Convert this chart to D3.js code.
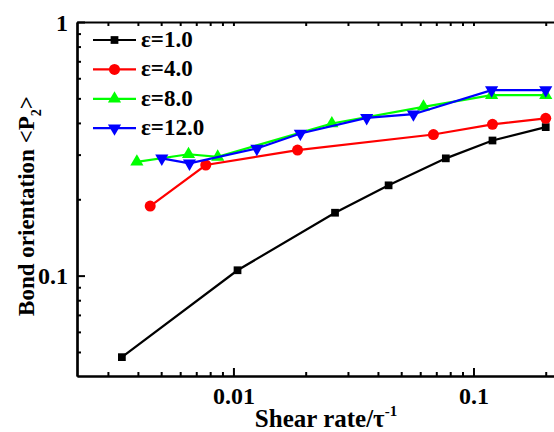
<!DOCTYPE html>
<html>
<head>
<meta charset="utf-8">
<script src="https://cdn.jsdelivr.net/npm/d3@7"></script>
<style>
  body { margin: 0; background: #fff; }
  text { font-family: "Times New Roman", "Liberation Serif", serif; font-weight: bold; }
</style>
</head>
<body>
<div id="chart"></div>
<script>
// values (shear rate, <P2>)
const seriesNames = ["ε=1.0", "ε=4.0", "ε=8.0", "ε=12.0"];
const seriesColors = ["#000000", "#ff0000", "#00ff00", "#0000ff"];

const eps1x = [0.00343, 0.0104, 0.0265, 0.0443, 0.0767, 0.12, 0.2];
const eps1y = [0.0477, 0.105, 0.177, 0.227, 0.290, 0.341, 0.385];

const eps4x = [0.0045, 0.00767, 0.0185, 0.0681, 0.12, 0.2];
const eps4y = [0.188, 0.273, 0.3125, 0.360, 0.395, 0.417];

const eps8x = [0.00396, 0.0065, 0.0086, 0.0257, 0.0619, 0.119, 0.2];
const eps8y = [0.281, 0.301, 0.294, 0.398, 0.463, 0.515, 0.515];

const eps12x = [0.00503, 0.00656, 0.01252, 0.019, 0.0359, 0.0562, 0.119, 0.2];
const eps12y = [0.290, 0.277, 0.317, 0.3636, 0.419, 0.433, 0.539, 0.539];

const xMajor = [0.01, 0.1];
const xMajorLabels = ["0.01", "0.1"];
const yMajor = [0.1, 1];
const yMajorLabels = ["0.1", "1"];

const width = 554;
const height = 432;

const series = [
    { name: seriesNames[0], color: seriesColors[0], sym: d3.symbolSquare, size: 60, rot: 0, xs: eps1x, ys: eps1y },
    { name: seriesNames[1], color: seriesColors[1], sym: d3.symbolCircle, size: 95, rot: 0, xs: eps4x, ys: eps4y },
    { name: seriesNames[2], color: seriesColors[2], sym: d3.symbolTriangle, size: 75, rot: 0, xs: eps8x, ys: eps8y },
    { name: seriesNames[3], color: seriesColors[3], sym: d3.symbolTriangle, size: 75, rot: 180, xs: eps12x, ys: eps12y }
];

const x = d3.scaleLog().domain([0.00223, 0.3]).range([77, 588]);
const y = d3.scaleLog().domain([0.0402, 1]).range([376, 22]);

// minor ticks
const xMinor = [];
[0.001, 0.01, 0.1].forEach(b => { for (let k = 2; k <= 9; k++) xMinor.push(b * k); });
const xMinorIn = xMinor.filter(v => v > x.domain()[0] && v < x.domain()[1]);
const yMinor = [];
[0.01, 0.1].forEach(b => { for (let k = 2; k <= 9; k++) yMinor.push(b * k); });
const yMinorIn = yMinor.filter(v => v > y.domain()[0] && v < y.domain()[1]);

const svg = d3.select("#chart").append("svg")
    .attr("width", width)
    .attr("height", height);

// bottom axis, ticks pointing in
const gx = svg.append("g").attr("transform", `translate(0,${y.range()[0]})`);
gx.call(d3.axisBottom(x).tickValues(xMinorIn).tickSize(-4).tickFormat("").tickSizeOuter(0));
const gxMaj = gx.append("g").call(d3.axisBottom(x).tickValues(xMajor).tickSize(-8).tickFormat((d, i) => xMajorLabels[i]).tickSizeOuter(0));
gxMaj.selectAll(".tick text").attr("y", 28).attr("dy", 0);

// top axis
const gt = svg.append("g").attr("transform", `translate(0,${y.range()[1]})`);
gt.call(d3.axisTop(x).tickValues(xMinorIn.concat(xMajor)).tickSize(-4).tickFormat("").tickSizeOuter(0));

// left axis
const gy = svg.append("g").attr("transform", `translate(${x.range()[0]},0)`);
gy.call(d3.axisLeft(y).tickValues(yMinorIn).tickSize(-4).tickFormat("").tickSizeOuter(0));
const gyMaj = gy.append("g").call(d3.axisLeft(y).tickValues(yMajor).tickSize(-8).tickFormat((d, i) => yMajorLabels[i]).tickSizeOuter(0));
gyMaj.selectAll(".tick text").attr("x", -9).attr("dy", "0.34em");

svg.selectAll(".domain").attr("stroke", "#000").attr("stroke-width", 2.2);
svg.selectAll(".tick line").attr("stroke", "#000").attr("stroke-width", 2);
svg.selectAll(".tick text")
    .attr("fill", "#000")
    .style("font-size", "24px")
    .style("font-family", "'Times New Roman','Liberation Serif',serif")
    .style("font-weight", "bold");

// series
const line = d3.line().x(d => x(d[0])).y(d => y(d[1]));
series.forEach(s => {
    const pts = s.xs.map((v, i) => [v, s.ys[i]]);
    svg.append("path")
        .datum(pts)
        .attr("fill", "none")
        .attr("stroke", s.color)
        .attr("stroke-width", 2.2)
        .attr("d", line);
    svg.append("g").selectAll("path")
        .data(pts)
        .join("path")
        .attr("d", d3.symbol(s.sym, s.size))
        .attr("fill", s.color)
        .attr("transform", d => `translate(${x(d[0])},${y(d[1])}) rotate(${s.rot})`);
});

// legend
const legend = svg.append("g");
series.forEach((s, i) => {
    const ly = 40 + i * 29.4;
    legend.append("line")
        .attr("x1", 93).attr("x2", 136)
        .attr("y1", ly).attr("y2", ly)
        .attr("stroke", s.color).attr("stroke-width", 2.2);
    legend.append("path")
        .attr("d", d3.symbol(s.sym, s.size))
        .attr("fill", s.color)
        .attr("transform", `translate(114.5,${ly}) rotate(${s.rot})`);
    legend.append("text")
        .attr("x", 141).attr("y", ly + 7)
        .style("font-size", "23px")
        .text(s.name);
});

// axis titles
const xt = svg.append("text")
    .attr("x", 326).attr("y", 427)
    .attr("text-anchor", "middle")
    .style("font-size", "25px");
xt.append("tspan").text("Shear rate/τ");
xt.append("tspan").attr("dy", -11).style("font-size", "15px").text("-1");

const yt = svg.append("text")
    .attr("transform", "translate(34,206) rotate(-90)")
    .attr("text-anchor", "middle")
    .style("font-size", "23px");
yt.append("tspan").text("Bond orientation <P");
yt.append("tspan").attr("dy", 7).style("font-size", "14px").text("2");
yt.append("tspan").attr("dy", -7).text(">");
</script>
</body>
</html>
